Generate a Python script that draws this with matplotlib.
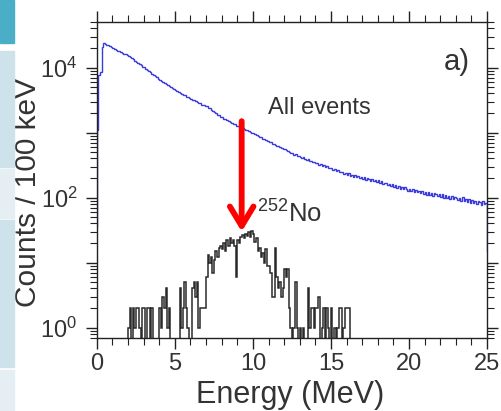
import numpy as np
import matplotlib
matplotlib.use("Agg")
import matplotlib.pyplot as plt
from matplotlib import ticker
from matplotlib.patches import Rectangle

plt.rcParams["font.family"] = ["Liberation Sans", "DejaVu Sans"]
plt.rcParams["mathtext.fontset"] = "custom"
plt.rcParams["mathtext.rm"] = "Liberation Sans"
plt.rcParams["mathtext.it"] = "Liberation Sans:italic"

# Spectrum data, counts per 100 keV bin
bin_width = 0.1

# all events, first bin starts at -0.1 MeV, last bin is just past 25 MeV
all_start = -0.1
all_counts = [35,
    1100, 7800, 8600, 20500, 24000, 23500, 22600, 21900, 21300, 20600,
    20100, 19400, 18950, 18300, 17950, 17350, 16950, 16350, 15950, 15450,
    15150, 14450, 13950, 13350, 12850, 12250, 11850, 11250, 10950, 10350,
    10050, 9560, 9200, 8740, 8430, 8000, 7720, 7330, 7070, 6700,
    6490, 6200, 6030, 5760, 5610, 5350, 5220, 4970, 4850, 4610,
    4500, 4310, 4240, 4050, 3990, 3810, 3750, 3580, 3530, 3370,
    3340, 3190, 3160, 3020, 2990, 2850, 2830, 2700, 2680, 2550,
    2540, 2380, 2350, 2200, 2180, 2040, 2020, 1880, 1870, 1740,
    1710, 1640, 1615, 1540, 1510, 1450, 1430, 1360, 1340, 1280,
    1270, 1220, 1210, 1160, 1150, 1100, 1090, 1050, 1040, 990,
    985, 945, 930, 880, 870, 845, 805, 795, 760, 750,
    715, 705, 670, 675, 640, 625, 620, 590, 585, 560,
    560, 538, 515, 510, 488, 482, 458, 468, 436, 432,
    428, 404, 415, 390, 380, 392, 362, 368, 350, 352,
    338, 342, 320, 326, 308, 318, 296, 305, 288, 282,
    290, 268, 276, 258, 270, 248, 244, 252, 232, 240,
    226, 236, 218, 222, 210, 220, 204, 214, 200, 208,
    196, 206, 188, 198, 194, 180, 192, 178, 188, 176,
    184, 168, 178, 162, 170, 168, 154, 164, 152, 160,
    146, 156, 142, 150, 138, 146, 134, 144, 136, 128,
    138, 126, 134, 122, 130, 120, 128, 116, 126, 114,
    122, 110, 120, 108, 118, 106, 116, 112, 104, 114,
    102, 112, 98, 108, 100, 106, 96, 104, 94, 102,
    100, 92, 98, 90, 102, 88, 96, 86, 94, 84,
    92, 84, 90, 80, 88, 86, 78, 90, 80, 82,
    15]

# 252No events, first bin starts at 1.9 MeV
no_start = 1.9
no_counts = [0,
    1, 2, 0, 2, 1, 2, 2, 1, 0, 2,
    2, 0, 2, 2, 0, 2, 0, 0, 0, 0,
    2, 1, 3, 2, 4, 1, 2, 0, 0, 0,
    0, 0, 0, 4, 1, 2, 5, 2, 1, 0,
    0, 4, 5, 3, 5, 1, 2, 2, 2, 2,
    6, 13, 10, 12, 7, 11, 15, 12, 17, 18,
    16, 20, 15, 22, 18, 24, 20, 22, 18, 6,
    22, 20, 25, 27, 24, 28, 26, 30, 25, 31,
    28, 21, 24, 15, 17, 12, 14, 10, 16, 9,
    9, 7, 3, 3, 17, 6, 4, 5, 3, 4,
    8, 6, 8, 2, 1, 0, 1, 5, 1, 0,
    1, 0, 1, 0, 0, 4, 1, 2, 2, 1,
    2, 2, 3, 0, 1, 2, 0, 2, 1, 0,
    2, 0, 1, 0, 1, 2, 2, 0, 1, 2,
    2, 2, 0]

x_ticks = [0, 5, 10, 15, 20, 25]
arrow_energy = 9.28

all_edges = all_start + bin_width * np.arange(len(all_counts) + 1)
no_edges = no_start + bin_width * np.arange(len(no_counts) + 1)

# zero bins sit below the visible range on the log axis
all_vals = np.where(np.array(all_counts) > 0, all_counts, 0.05)
no_vals = np.where(np.array(no_counts) > 0, no_counts, 0.05)

fig = plt.figure(figsize=(5.02, 4.11), dpi=100)

# page strip on the left edge
strip = [(0.0, 43, "#4aaec6"), (51, 167, "#cde2ea"), (169, 218, "#e5eef2"),
         (220, 367, "#cde2ea"), (370, 411, "#e5eef2")]
for y0, y1, col in strip:
    fig.patches.append(Rectangle((0, 1 - y1 / 411), 14 / 502, (y1 - y0) / 411,
                                 transform=fig.transFigure, color=col, zorder=0))

ax = fig.add_axes([0.193, 0.178, 0.777, 0.768])

ax.stairs(all_vals, all_edges, baseline=None, color="#3b3bdc", lw=1.0)
ax.stairs(no_vals, no_edges, baseline=None, color="#2a2a2a", lw=1.1)

ax.set_yscale("log")
ax.set_xlim(0, 25)
ax.set_ylim(0.695, 50000)

ax.set_xticks(x_ticks)
ax.xaxis.set_minor_locator(ticker.MultipleLocator(1))
ax.yaxis.set_major_locator(ticker.LogLocator(base=10, numticks=12))
ax.yaxis.set_minor_locator(ticker.LogLocator(base=10, subs=np.arange(2, 10), numticks=12))
ax.yaxis.set_minor_formatter(ticker.NullFormatter())


def even_decades(v, pos):
    p = int(round(np.log10(v)))
    return r"$\mathregular{10^{%d}}$" % p if p % 2 == 0 else ""


ax.yaxis.set_major_formatter(ticker.FuncFormatter(even_decades))

ax.tick_params(which="both", direction="out", top=True, right=True,
               color="#222222", labelcolor="#333333", labelsize=17)
ax.tick_params(which="major", length=8, width=1.0, pad=3)
ax.tick_params(axis="y", which="major", pad=6)
ax.tick_params(which="minor", length=5, width=0.8)
for sp in ax.spines.values():
    sp.set_color("#222222")
    sp.set_linewidth(1.0)

ax.set_xlabel("Energy (MeV)", fontsize=22, color="#333333", va="center")
ax.set_ylabel("Counts / 100 keV", fontsize=21.5, color="#333333", va="center")
ax.xaxis.set_label_coords(0.495, -0.18)
ax.yaxis.set_label_coords(-0.177, 0.46)

ax.text(23.9, 12000, "a)", fontsize=21, color="#333333", ha="right", va="center")
ax.text(10.96, 2350, "All events", fontsize=17, color="#333333", ha="left", va="center")
ax.text(10.26, 41, r"$^{252}$No", fontsize=18.5, color="#333333", ha="left", va="baseline")

# red arrow pointing at the 252No peak
ax.annotate("", xy=(arrow_energy, 30), xytext=(arrow_energy, 1500),
            arrowprops=dict(arrowstyle="->,head_length=1.4,head_width=0.85",
                            color="#ff0000", lw=4.2, shrinkA=0, shrinkB=0))

fig.savefig("out.png", dpi=100)
